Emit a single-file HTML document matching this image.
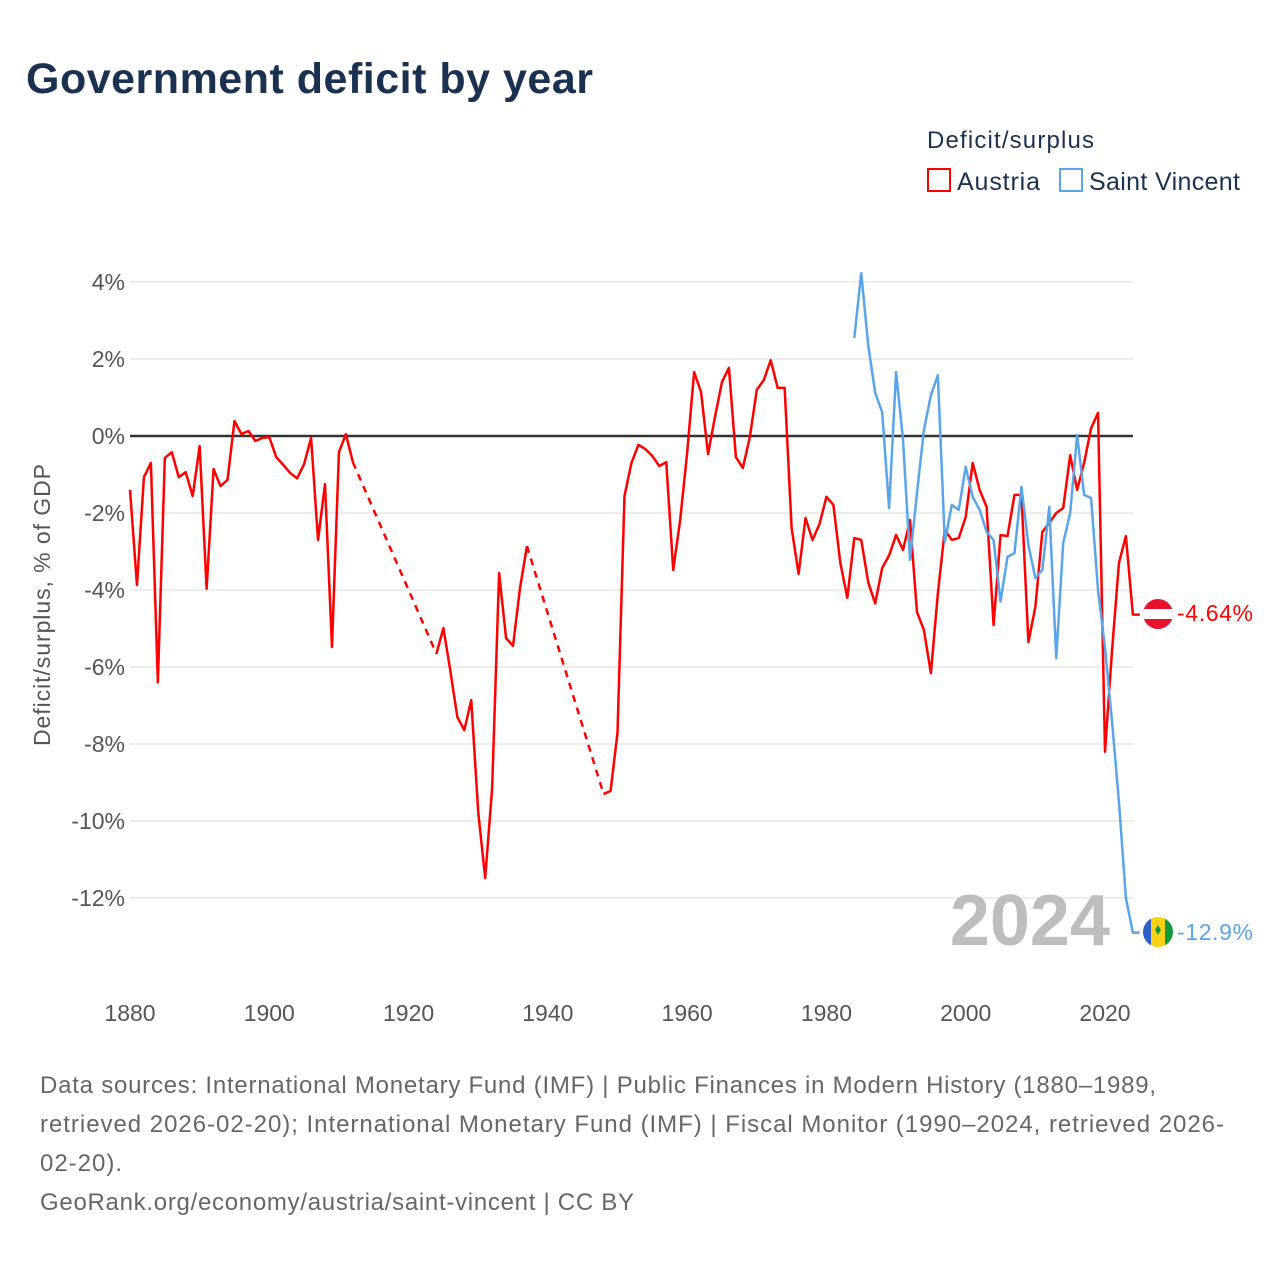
<!DOCTYPE html>
<html><head><meta charset="utf-8"><style>
body{margin:0;background:#fff;font-family:"Liberation Sans",sans-serif;}
</style></head><body>
<svg id="chart" width="1280" height="1280" xmlns="http://www.w3.org/2000/svg" font-family="Liberation Sans, sans-serif">
<rect width="1280" height="1280" fill="#fff"/>
<text x="26" y="93" font-size="43" font-weight="bold" fill="#1a3150" textLength="567">Government deficit by year</text>
<text x="927" y="148" font-size="24" fill="#1a3150" textLength="167">Deficit/surplus</text>
<g><rect x="928" y="169" width="22" height="22" fill="none" stroke="#f00" stroke-width="2"/><text x="957" y="190" font-size="25" fill="#1a3150" textLength="83">Austria</text></g>
<g><rect x="1060" y="169" width="22" height="22" fill="none" stroke="#5aa5ea" stroke-width="2"/><text x="1089" y="190" font-size="25" fill="#1a3150" textLength="151">Saint Vincent</text></g>
<g id="grid"></g><g id="yticks"></g><g id="xticks"></g>
<text transform="translate(50,605) rotate(-90)" text-anchor="middle" font-size="23" fill="#555" textLength="282">Deficit/surplus, % of GDP</text>
<text x="1110" y="945" text-anchor="end" font-size="72" font-weight="bold" fill="#bdbdbd">2024</text>
<g id="series"></g>
<g><clipPath id="c1"><circle cx="1158" cy="614" r="15"/></clipPath><g clip-path="url(#c1)"><rect x="1143" y="599" width="30" height="30" fill="#e8112d"/><rect x="1143" y="609" width="30" height="10" fill="#fff"/></g></g>
<g><clipPath id="c2"><circle cx="1158" cy="932" r="15"/></clipPath><g clip-path="url(#c2)"><rect x="1143" y="917" width="8" height="30" fill="#2d60c9"/><rect x="1151" y="917" width="14" height="30" fill="#fcd116"/><rect x="1165" y="917" width="8" height="30" fill="#109a3b"/><path d="M1158 925l3 5-3 5-3-5z" fill="#109a3b"/></g></g>
<text x="1177" y="621" font-size="23" fill="#f00" textLength="76">-4.64%</text>
<text x="1177" y="940" font-size="23" fill="#5aa5ea" textLength="76">-12.9%</text>
<g font-size="24" fill="#666">
<text x="40" y="1093" textLength="1116">Data sources: International Monetary Fund (IMF) | Public Finances in Modern History (1880–1989,</text>
<text x="40" y="1132" textLength="1184">retrieved 2026-02-20); International Monetary Fund (IMF) | Fiscal Monitor (1990–2024, retrieved 2026-</text>
<text x="40" y="1171" textLength="82">02-20).</text>
<text x="40" y="1210" textLength="594">GeoRank.org/economy/austria/saint-vincent | CC BY</text>
</g>
</svg>
<script>
const years=[];for(let y=1880;y<=2025;y++)years.push(y);
const austriaStart=1880;
const austria=[-1.4,-3.87,-1.07,-0.7,-6.4,-0.57,-0.42,-1.07,-0.94,-1.56,-0.26,-3.97,-0.86,-1.3,-1.14,0.39,0.05,0.13,-0.13,-0.05,
-0.03,-0.55,-0.75,-0.96,-1.1,-0.73,-0.05,-2.7,-1.25,-5.48,-0.42,0.05,-0.68,null,null,null,null,null,null,null,
null,null,null,null,-5.66,-4.99,-6.1,-7.3,-7.64,-6.86,-9.77,-11.48,-9.14,-3.56,-5.25,-5.45,-3.95,-2.86,null,null,
null,null,null,null,null,null,null,null,-9.3,-9.22,-7.71,-1.56,-0.7,-0.23,-0.34,-0.52,-0.78,-0.68,-3.48,-2.18,
-0.44,1.66,1.14,-0.47,0.5,1.4,1.77,-0.55,-0.83,-0.03,1.2,1.45,1.97,1.25,1.25,-2.39,-3.58,-2.13,-2.7,-2.29,
-1.58,-1.79,-3.3,-4.2,-2.65,-2.7,-3.8,-4.35,-3.43,-3.1,-2.57,-2.96,-2.18,-4.57,-5.04,-6.16,-4.09,-2.44,-2.7,-2.65,
-2.1,-0.7,-1.4,-1.84,-4.91,-2.57,-2.6,-1.53,-1.53,-5.35,-4.44,-2.49,-2.26,-2.0,-1.87,-0.5,-1.4,-0.7,0.2,0.6,
-8.2,-5.6,-3.3,-2.6,-4.64,-4.64];
const svgStart=1984;
const saintVincent=[2.55,4.23,2.36,1.12,0.62,-1.87,1.66,-0.1,-3.22,-1.48,0.16,1.06,1.58,-2.75,-1.79,-1.92,
-0.8,-1.58,-1.92,-2.49,-2.7,-4.3,-3.14,-3.04,-1.32,-2.83,-3.69,-3.48,-1.84,-5.77,-2.78,-2.0,0.03,-1.53,-1.61,-4.0,
-5.5,-7.4,-9.5,-12.0,-12.9,-12.9];
const yTicks=[4,2,0,-2,-4,-6,-8,-10,-12];
const xTicks=[1880,1900,1920,1940,1960,1980,2000,2020];
const X=y=>130+(y-1880)*975/140;
const Y=v=>436-v*38.5;
const NS="http://www.w3.org/2000/svg";
function mk(tag,attrs,parent){const e=document.createElementNS(NS,tag);for(const k in attrs)e.setAttribute(k,attrs[k]);parent.appendChild(e);return e;}
const grid=document.getElementById('grid'),yt=document.getElementById('yticks'),xt=document.getElementById('xticks'),ser=document.getElementById('series');
yTicks.forEach(v=>{
 const l=mk('line',{x1:130,x2:1133,y1:Y(v),y2:Y(v),stroke:v===0?'#333':'#e6e6e6','stroke-width':v===0?2.5:1.5},grid);
 
 
 const t=mk('text',{x:125,y:Y(v)+8,'text-anchor':'end','font-size':23,fill:'#555'},yt);t.textContent=v+'%';
 
 
});
xTicks.forEach(y=>{
 const t=mk('text',{x:X(y),y:1021,'text-anchor':'middle','font-size':23,fill:'#555'},xt);t.textContent=y;
 
 
});
function draw(vals,start,color,name){
 let solid='',dash='',prev=null,gap=false;
 vals.forEach((v,i)=>{
  if(v===null){if(prev)gap=true;return;}
  const p=[X(start+i),Y(v)];
  if(!prev)solid+='M'+p[0]+' '+p[1];
  else if(gap){dash+='M'+prev[0]+' '+prev[1]+'L'+p[0]+' '+p[1];solid+='M'+p[0]+' '+p[1];}
  else solid+='L'+p[0]+' '+p[1];
  prev=p;gap=false;
 });
 const a=mk('path',{d:solid,fill:'none',stroke:color,'stroke-width':2.5,'stroke-linejoin':'round'},ser);
 
 
 if(dash){const b=mk('path',{d:dash,fill:'none',stroke:color,'stroke-width':2.5,'stroke-dasharray':'7 6'},ser);
 
 }
}
draw(austria,austriaStart,'#f00','austria');
draw(saintVincent,svgStart,'#5aa5ea','saint-vincent');
</script>
</body></html>
